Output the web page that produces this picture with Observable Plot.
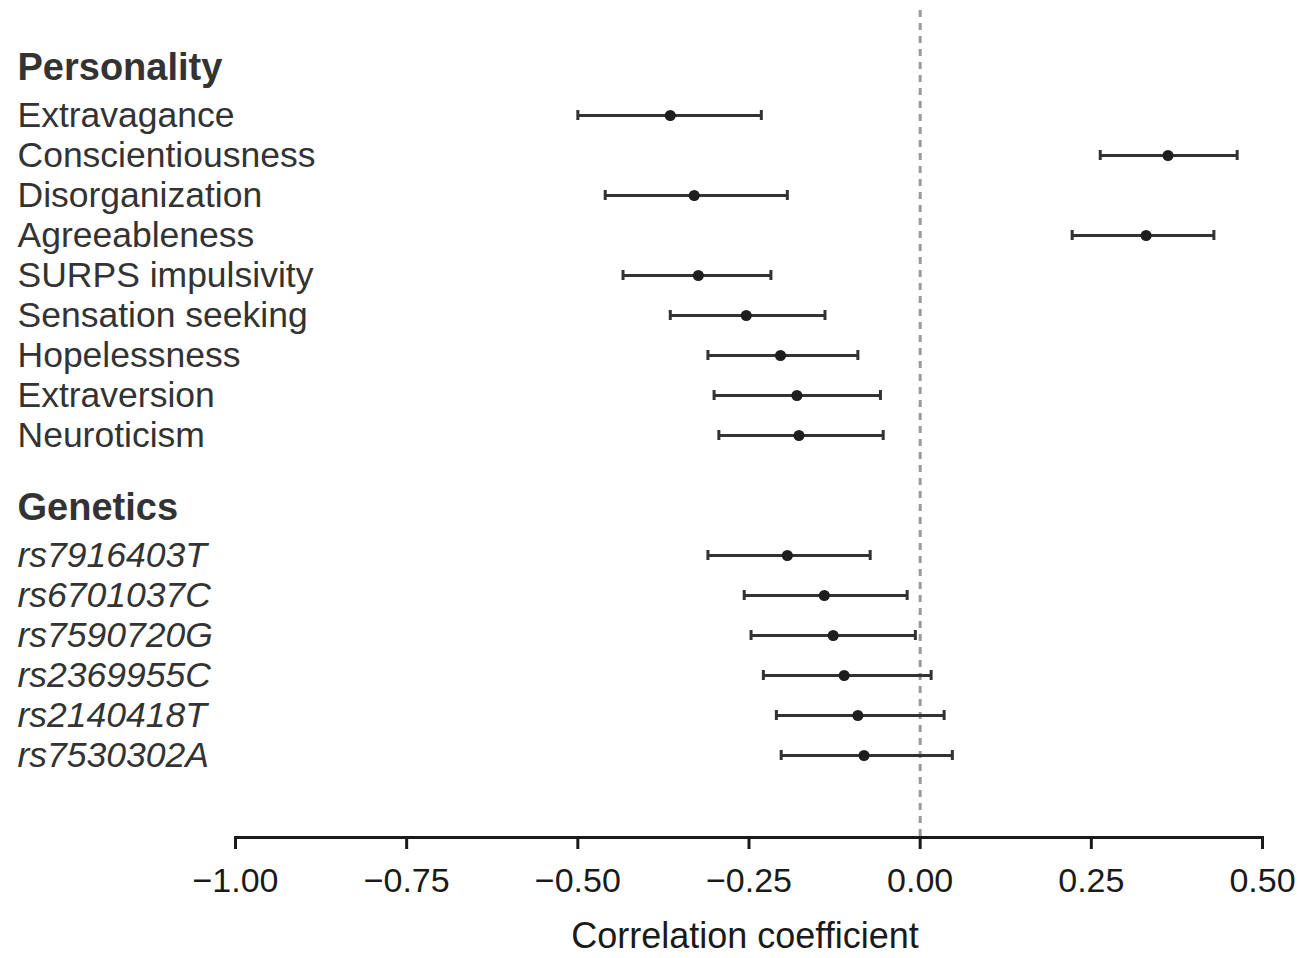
<!DOCTYPE html>
<html>
<head>
<meta charset="utf-8">
<script src="https://cdn.jsdelivr.net/npm/d3@7"></script>
<script src="https://cdn.jsdelivr.net/npm/@observablehq/plot@0.6"></script>
<style>
  html, body { margin: 0; padding: 0; background: #fff; }
  #chart svg { display: block; }
</style>
</head>
<body>
<div id="chart"></div>
<script>
// Group headers
const headers = ["Personality", "Genetics"];

// Personality traits
const personalityLabels = ["Extravagance", "Conscientiousness", "Disorganization", "Agreeableness",
  "SURPS impulsivity", "Sensation seeking", "Hopelessness", "Extraversion", "Neuroticism"];
const personalityEst = [-0.365, 0.362, -0.330, 0.330, -0.324, -0.254, -0.204, -0.180, -0.177];
const personalityLo  = [-0.500, 0.263, -0.460, 0.222, -0.434, -0.365, -0.310, -0.301, -0.294];
const personalityHi  = [-0.232, 0.463, -0.194, 0.429, -0.218, -0.139, -0.091, -0.058, -0.054];

// Genetic variants
const geneticLabels = ["rs7916403T", "rs6701037C", "rs7590720G", "rs2369955C", "rs2140418T", "rs7530302A"];
const geneticEst = [-0.194, -0.140, -0.127, -0.111, -0.091, -0.082];
const geneticLo  = [-0.310, -0.257, -0.247, -0.229, -0.210, -0.203];
const geneticHi  = [-0.073, -0.019, -0.007, 0.016, 0.035, 0.047];

// x-axis ticks and title
const xTicks = [-1.00, -0.75, -0.50, -0.25, 0.00, 0.25, 0.50];
const xTitle = "Correlation coefficient";

const rows = [
  ...personalityLabels.map((label, i) => ({label, est: personalityEst[i], lo: personalityLo[i], hi: personalityHi[i]})),
  ...geneticLabels.map((label, i) => ({label, est: geneticEst[i], lo: geneticLo[i], hi: geneticHi[i]}))
];

const yDomain = [headers[0], ...personalityLabels, "", headers[1], ...geneticLabels];

const font = "'Liberation Sans', Arial, Helvetica, sans-serif";
const lineColor = "#333";

const chart = Plot.plot({
  width: 1298,
  height: 958,
  marginLeft: 235,
  marginRight: 36,
  marginTop: 10,
  marginBottom: 121,
  style: {fontFamily: font, background: "#fff"},
  x: {domain: [-1, 0.5]},
  y: {type: "point", domain: yDomain, range: [72, 758], padding: 0, axis: null},
  marks: [
    Plot.ruleX([0], {stroke: "#9a9a9a", strokeWidth: 3, strokeDasharray: "7,6"}),
    Plot.frame({anchor: "bottom", stroke: "#1a1a1a", strokeWidth: 3}),
    Plot.axisX({
      ticks: xTicks,
      tickFormat: d3.format(".2f"),
      tickSize: 12,
      tickPadding: 18,
      strokeWidth: 3,
      stroke: "#1a1a1a",
      fontSize: 34,
      color: "#1a1a1a",
      label: null
    }),
    Plot.text([xTitle], {frameAnchor: "bottom", dx: -4, dy: 110, fontSize: 36, fill: "#1a1a1a"}),
    Plot.ruleY(rows, {y: "label", x1: "lo", x2: "hi", stroke: lineColor, strokeWidth: 3}),
    Plot.ruleX(rows, {x: "lo", y1: "label", y2: "label", stroke: lineColor, strokeWidth: 3, insetTop: -5, insetBottom: -5}),
    Plot.ruleX(rows, {x: "hi", y1: "label", y2: "label", stroke: lineColor, strokeWidth: 3, insetTop: -5, insetBottom: -5}),
    Plot.dot(rows, {y: "label", x: "est", r: 5.5, fill: "#1e1e1e", stroke: "none"}),
    Plot.text(headers, {y: d => d, frameAnchor: "left", dx: -218, dy: -8, textAnchor: "start",
      fontSize: 38, fontWeight: "bold", fill: "#333"}),
    Plot.text(personalityLabels, {y: d => d, frameAnchor: "left", dx: -218, textAnchor: "start",
      fontSize: 35.5, fill: "#333"}),
    Plot.text(geneticLabels, {y: d => d, frameAnchor: "left", dx: -218, textAnchor: "start",
      fontSize: 35.5, fontStyle: "italic", fill: "#333"})
  ]
});

document.getElementById("chart").append(chart);
</script>
</body>
</html>
